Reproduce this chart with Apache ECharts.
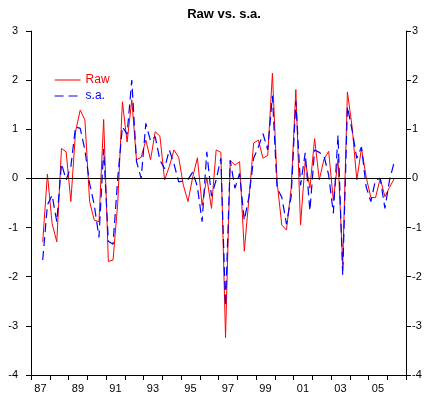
<!DOCTYPE html>
<html>
<head>
<meta charset="utf-8">
<script src="https://cdn.jsdelivr.net/npm/echarts@6/dist/echarts.min.js"></script>
<style>html,body{margin:0;padding:0;background:#fff}#c{width:429px;height:400px}</style>
</head>
<body>
<div id="c"></div>
<script>
// Years on the axis (labels every other year)
var years = [1987,1988,1989,1990,1991,1992,1993,1994,1995,1996,1997,1998,1999,2000,2001,2002,2003,2004,2005,2006];
// First observation: 1987 Q3, quarterly
var firstYear = 1987, firstQuarter = 3;
var rawValues = [-1.29,0.09,-0.92,-1.29,0.61,0.54,-0.47,0.95,1.39,1.19,
  -0.47,-0.85,-0.88,1.2,-1.69,-1.66,-0.51,1.56,0.74,1.6,
  0.38,0.43,0.78,0.38,0.95,0.86,-0.03,0.24,0.58,0.43,
  -0.14,-0.47,0.03,0.42,-0.55,0.02,-0.61,0.58,0.53,-3.24,
  0.37,0.27,0.34,-1.48,-0.4,0.72,0.78,0.41,0.47,2.14,
  -0.07,-0.95,-1.05,-0.2,1.81,-0.95,0.36,-0.2,0.81,-0.03,
  0.39,0.55,-0.45,0.4,-1.75,1.76,1.05,-0.03,0.61,0.03,
  -0.39,-0.39,0.0,-0.37,-0.18,0.0];
var saValues = [-1.66,-0.54,-0.34,-0.88,0.3,-0.03,0.24,1.05,1.02,0.58,
  -0.1,-0.54,-1.2,0.6,-1.28,-1.34,0.0,1.05,0.9,2.0,
  0.35,0.0,1.12,0.76,0.85,0.37,0.2,0.58,0.3,-0.07,
  -0.05,-0.02,0.13,-0.17,-0.88,0.54,-0.36,-0.03,0.41,-2.6,
  0.37,-0.2,0.1,-0.85,-0.37,0.41,0.64,0.91,0.58,1.68,
  -0.2,-0.38,-0.93,-0.37,1.57,-0.14,0.52,-0.66,0.58,0.53,
  0.46,0.07,-0.71,0.88,-1.97,1.46,0.98,0.41,0.64,-0.17,
  -0.47,-0.03,0.0,-0.61,-0.03,0.34];
var yTicks = [-4,-3,-2,-1,0,1,2,3];

var quarterCats = [];
years.forEach(function(y){ for (var q=1;q<=4;q++) quarterCats.push(y+'Q'+q); });
var offset = (firstYear - years[0])*4 + (firstQuarter-1);
function place(vals){
  var arr = quarterCats.map(function(){return null;});
  vals.forEach(function(v,i){ arr[offset+i] = v; });
  return arr;
}
var font = 'Liberation Sans, Arial, sans-serif';
var chart = echarts.init(document.getElementById('c'), null, {renderer:'canvas'});
var yAxisCommon = {
  type:'value', min: yTicks[0], max: yTicks[yTicks.length-1], interval:1,
  splitLine:{show:false},
  axisLine:{show:true, lineStyle:{color:'#000', width:1}},
  axisTick:{show:true, length:5, lineStyle:{color:'#000'}},
};
chart.setOption({
  animation:false,
  title:{text:'Raw vs. s.a.', left:219, top:3, textAlign:'center',
    textStyle:{fontFamily:font, fontSize:13, fontWeight:'bold', color:'#000'}},
  grid:{left:31, right:23, top:31, bottom:25, containLabel:false},
  legend:{orient:'vertical', left:54, top:74, padding:0, itemWidth:26, itemHeight:10, itemGap:4,
    textStyle:{fontFamily:font, fontSize:12},
    itemStyle:{opacity:0},
    data:[
      {name:'Raw', textStyle:{color:'#ff0000'}, lineStyle:{color:'#ff0000', width:1, type:'solid'}},
      {name:'s.a.', textStyle:{color:'#0000ff'}, lineStyle:{color:'#0000ff', width:1.2, type:[9,5]}}
    ]},
  xAxis:[
    {type:'category', data: years, position:'bottom', boundaryGap:true,
     axisLine:{show:true, onZero:false, lineStyle:{color:'#000'}},
     axisTick:{show:true, interval:0, length:5, alignWithLabel:false, lineStyle:{color:'#000'}},
     axisLabel:{interval:1, margin:8, color:'#000', fontFamily:font, fontSize:11,
       formatter:function(v){ return String(v).slice(2); }},
     splitLine:{show:false}},
    {type:'category', data: quarterCats, boundaryGap:true, show:false}
  ],
  yAxis:[
    Object.assign({}, yAxisCommon, {position:'left',
      axisLabel:{margin:13, color:'#000', fontFamily:font, fontSize:11}}),
    Object.assign({}, yAxisCommon, {position:'right',
      axisLabel:{margin:6, color:'#000', fontFamily:font, fontSize:11}})
  ],
  series:[
    {name:'Raw', type:'line', xAxisIndex:1, yAxisIndex:0, data: place(rawValues),
     symbol:'none', connectNulls:false, color:'#ff0000',
     lineStyle:{color:'#ff0000', width:1},
     markLine:{silent:true, symbol:'none', label:{show:false},
       lineStyle:{color:'#000', width:1, type:'solid'}, data:[{yAxis:0}]}},
    {name:'s.a.', type:'line', xAxisIndex:1, yAxisIndex:0, data: place(saValues),
     symbol:'none', color:'#0000ff',
     lineStyle:{color:'#0000ff', width:1.2, type:[9,5]}}
  ]
});
</script>
</body>
</html>
